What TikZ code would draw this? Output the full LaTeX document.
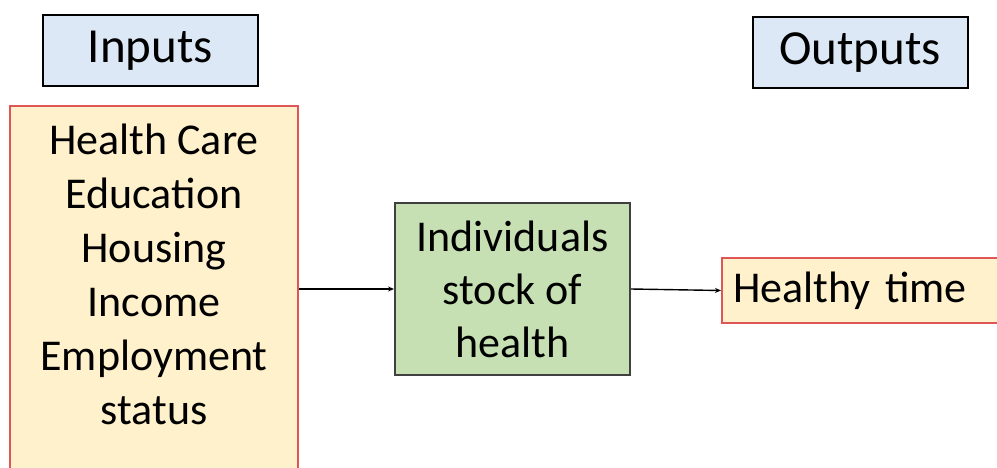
\documentclass[tikz,border=0pt]{standalone}
\usepackage{fontspec}
\setmainfont{Carlito}
\usetikzlibrary{arrows.meta}
\definecolor{hdrfill}{HTML}{DCE8F5}
\definecolor{orfill}{HTML}{FFF1CC}
\definecolor{redline}{HTML}{E05555}
\definecolor{grfill}{HTML}{C6E0B4}
\definecolor{grline}{HTML}{404040}
\tikzset{
  hdr/.style={draw=black, line width=2pt, fill=hdrfill, minimum width=215pt, minimum height=71pt, inner sep=0pt, font=\fontsize{49}{58}\selectfont},
  inbox/.style={draw=redline, line width=2pt, fill=orfill, inner sep=0pt},
  midbox/.style={draw=grline, line width=2pt, fill=grfill, minimum width=235pt, minimum height=172pt, inner sep=0pt, align=center, font=\fontsize{44}{53}\selectfont},
  body/.style={align=center, inner sep=0pt, font=\fontsize{44}{54}\selectfont},
  conn/.style={line width=1.4pt, -{Stealth[length=6pt,width=5pt]}}
}
\begin{document}
\begin{tikzpicture}[x=1pt,y=-1pt]
\useasboundingbox (0,0) rectangle (997,468);
\node[hdr] (inputs) at (150.5,50.5) {Inputs};
\node[hdr] (outputs) at (860,52.5) {Outputs};
\node[inbox, minimum width=288pt, minimum height=380pt] (inbox) at (154,296) {};
\node[body] (intext) at (154,274) {Health Care\\Education\\Housing\\Income\\Employment\\status};
\node[midbox] (health) at (512.5,289) {Individuals\\stock of\\health};
\node[inbox, text width=266pt, inner xsep=11pt, minimum height=65pt, align=left, font=\fontsize{44}{53}\selectfont] (healthy) at (866,290.5) {Healthy time};
\draw[conn] (health.west -| inbox.east) -- (health.west);
\draw[conn] (health.east) -- (healthy.west);
\end{tikzpicture}
\end{document}
